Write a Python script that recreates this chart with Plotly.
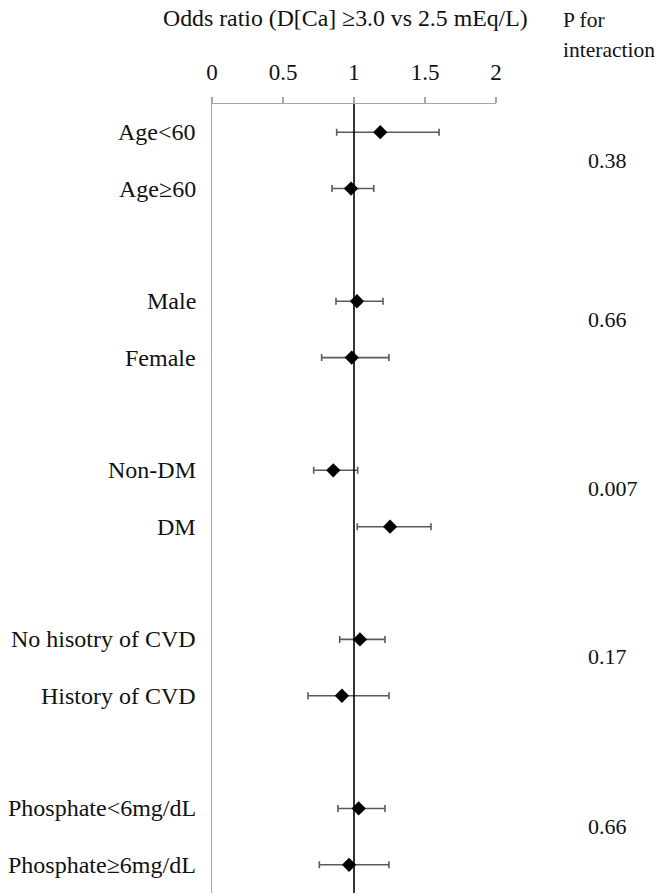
import plotly.graph_objects as go

# ---- data ----
labels = ["Age<60", "Age≥60", "Male", "Female", "Non-DM", "DM",
          "No hisotry of CVD", "History of CVD",
          "Phosphate<6mg/dL", "Phosphate≥6mg/dL"]
odds_ratio = [1.185, 0.979, 1.021, 0.984, 0.854, 1.254, 1.042, 0.915, 1.033, 0.965]
ci_low = [0.878, 0.845, 0.873, 0.772, 0.716, 1.023, 0.899, 0.676, 0.887, 0.756]
ci_high = [1.599, 1.139, 1.204, 1.246, 1.026, 1.542, 1.218, 1.246, 1.218, 1.246]
p_interaction = ["0.38", "0.66", "0.007", "0.17", "0.66"]
x_ticks = [0, 0.5, 1, 1.5, 2]
x_ticklabels = ["0", "0.5", "1", "1.5", "2"]

# ---- layout positions (row slots, with gaps between groups) ----
row_pos = [0, 1, 3, 4, 6, 7, 9, 10, 12, 13]
p_pos = [0.5, 3.33, 6.33, 9.31, 12.32]

FONT = "Liberation Serif, Times New Roman, serif"
TXT = "#111111"

err_plus = [h - o for h, o in zip(ci_high, odds_ratio)]
err_minus = [o - l for o, l in zip(odds_ratio, ci_low)]

fig = go.Figure()
fig.add_trace(go.Scatter(
    x=odds_ratio, y=row_pos, mode="markers",
    marker=dict(symbol="diamond", size=11, color="black"),
    error_x=dict(type="data", symmetric=False, array=err_plus, arrayminus=err_minus,
                 color="#5a5a5a", thickness=1.6, width=3.5),
    showlegend=False, hoverinfo="skip",
))

# reference line at OR = 1
fig.add_shape(type="line", xref="x", yref="paper", x0=1, x1=1, y0=0, y1=1,
              line=dict(color="black", width=1.6), layer="above")

annotations = []
for lab, yp in zip(labels, row_pos):
    annotations.append(dict(x=0, y=yp, xref="x", yref="y", text=lab, showarrow=False,
                            xanchor="right", yanchor="middle", xshift=-14,
                            font=dict(family=FONT, size=24, color=TXT)))
for pv, yp in zip(p_interaction, p_pos):
    annotations.append(dict(x=1.317, y=yp, xref="paper", yref="y", text=pv, showarrow=False,
                            xanchor="left", yanchor="middle",
                            font=dict(family=FONT, size=22, color=TXT)))
annotations.append(dict(x=0.4705, y=1.1095, xref="paper", yref="paper",
                        text="Odds ratio (D[Ca] ≥3.0 vs 2.5 mEq/L)", showarrow=False,
                        xanchor="center", yanchor="middle",
                        font=dict(family=FONT, size=23.8, color=TXT)))
annotations.append(dict(x=1.229, y=1.1065, xref="paper", yref="paper", text="P for",
                        showarrow=False, xanchor="left", yanchor="middle",
                        font=dict(family=FONT, size=21.5, color=TXT)))
annotations.append(dict(x=1.229, y=1.068, xref="paper", yref="paper", text="interaction",
                        showarrow=False, xanchor="left", yanchor="middle",
                        font=dict(family=FONT, size=21.5, color=TXT)))

fig.update_layout(
    width=666, height=896,
    margin=dict(l=212, r=170, t=104, b=3, pad=0),
    paper_bgcolor="white", plot_bgcolor="white",
    annotations=annotations,
    xaxis=dict(range=[0, 2], side="top", tickvals=x_ticks, ticktext=x_ticklabels,
               showline=True, linecolor="#a6a6a6", linewidth=1.3,
               ticks="outside", ticklen=6, tickcolor="#a6a6a6", tickwidth=1.3,
               ticklabelstandoff=8,
               showgrid=False, zeroline=False,
               tickfont=dict(family=FONT, size=23, color=TXT), fixedrange=True),
    yaxis=dict(range=[13.5, -0.5], showline=True, linecolor="#a6a6a6", linewidth=1.3,
               showticklabels=False, ticks="", showgrid=False, zeroline=False,
               fixedrange=True),
)

# remove the browser's default 8px page margin so the figure fills the window exactly
fig.write_html("out.html", config={"displayModeBar": False, "staticPlot": True},
               post_script="document.body.style.margin='0';")
